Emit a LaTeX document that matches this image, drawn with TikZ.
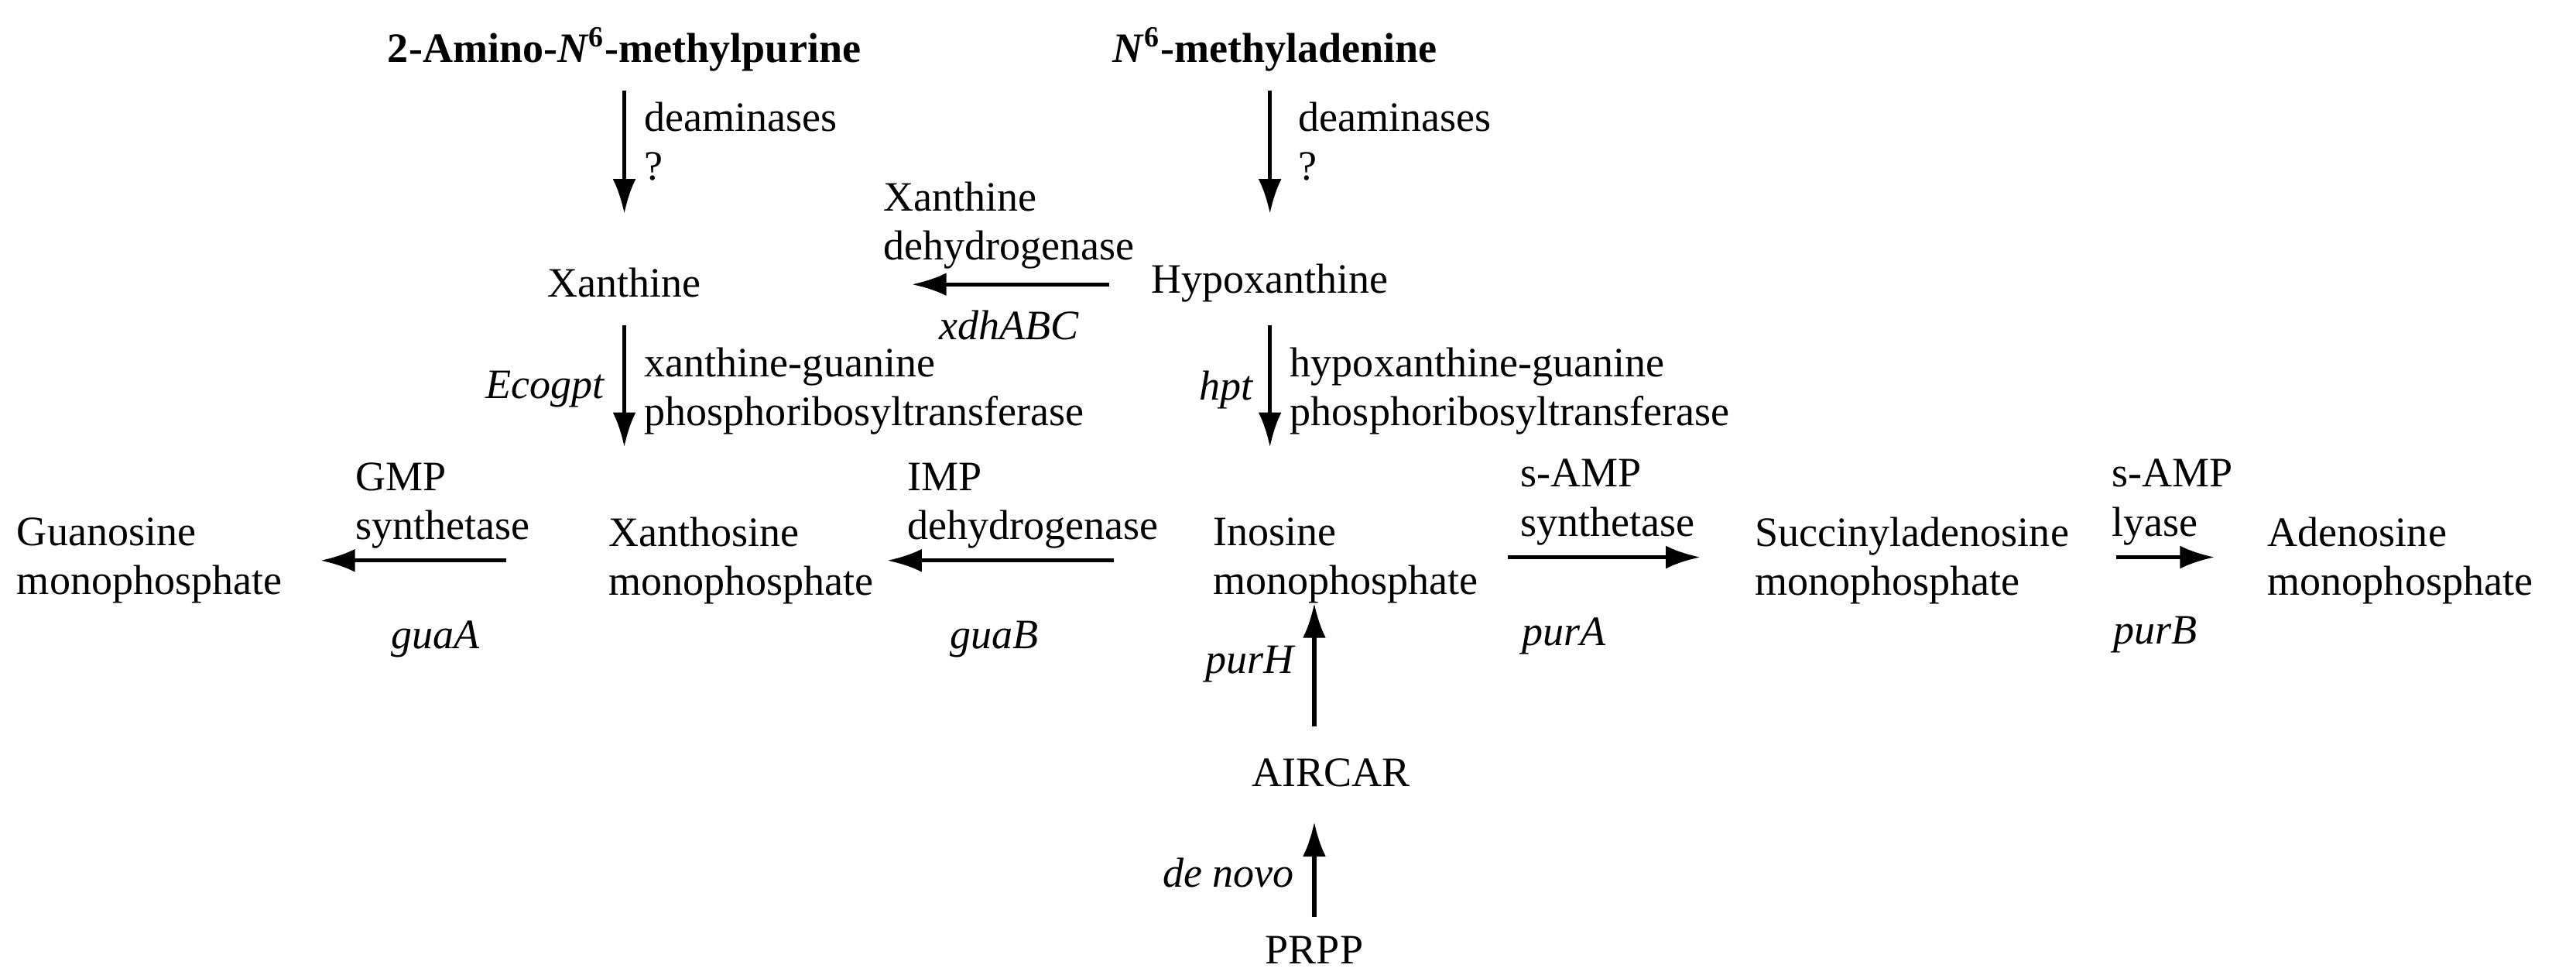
\documentclass[tikz,border=0pt]{standalone}
\usepackage{fontspec}
\setmainfont{Liberation Serif}
\usetikzlibrary{arrows.meta,positioning}
\tikzset{
    metab/.style={inner sep=0pt,align=left},
    enz/.style={inner sep=0pt,align=left},
    gene/.style={inner sep=0pt,font=\fontsize{14.5}{17}\selectfont\itshape},
    rxn/.style={line width=1.4pt,-{Latex[length=12pt,width=8pt]}}
}
\begin{document}
\begin{tikzpicture}[x=0.02cm,y=-0.02cm,font=\fontsize{14.5}{17}\selectfont]
\useasboundingbox (0,0) rectangle (1568,593);

% ========= Metabolites =========
\node[metab,font=\fontsize{14.5}{17}\selectfont\bfseries] (amp6) at (380,30) {2-Amino-\textit{N}\textsuperscript{6}-methylpurine};
\node[metab,font=\fontsize{14.5}{17}\selectfont\bfseries] (madn) at (776,30) {\textit{N}\textsuperscript{6}-methyladenine};
\node[metab] (xan) at (380,172) {Xanthine};
\node[metab] (hyp) at (773,172) {Hypoxanthine};
\node[metab,anchor=west] (gmp) at (10,341) {Guanosine\\monophosphate};
\node[metab,anchor=west] (xmp) at (370,341) {Xanthosine\\monophosphate};
\node[metab,anchor=west] (imp) at (738,341) {Inosine\\monophosphate};
\node[metab,anchor=west] (samp) at (1068,341) {Succinyladenosine\\monophosphate};
\node[metab,anchor=west] (amp) at (1380,341) {Adenosine\\monophosphate};
\node[metab] (aircar) at (810,470) {AIRCAR};
\node[metab] (prpp) at (800,578) {PRPP};

% ========= Arrow ends =========
\coordinate (a1s) at (380,55);  \coordinate (a1e) at (380,130);
\coordinate (a2s) at (773,55);  \coordinate (a2e) at (773,130);
\coordinate (a3s) at (675,173); \coordinate (a3e) at (555,173);
\coordinate (a4s) at (380,198); \coordinate (a4e) at (380,272);
\coordinate (a5s) at (773,198); \coordinate (a5e) at (773,272);
\coordinate (a6s) at (308,341); \coordinate (a6e) at (195,341);
\coordinate (a7s) at (678,341); \coordinate (a7e) at (540,341);
\coordinate (a8s) at (918,339); \coordinate (a8e) at (1035,339);
\coordinate (a9s) at (1288,339); \coordinate (a9e) at (1348,339);
\coordinate (a10s) at (800,442); \coordinate (a10e) at (800,367);
\coordinate (a11s) at (800,558); \coordinate (a11e) at (800,500);

% ========= Reactions =========
\draw[rxn] (a1s) -- (a1e);
\draw[rxn] (a2s) -- (a2e);
\draw[rxn] (a3s) -- (a3e);
\draw[rxn] (a4s) -- (a4e);
\draw[rxn] (a5s) -- (a5e);
\draw[rxn] (a6s) -- (a6e);
\draw[rxn] (a7s) -- (a7e);
\draw[rxn] (a8s) -- (a8e);
\draw[rxn] (a9s) -- (a9e);
\draw[rxn] (a10s) -- (a10e);
\draw[rxn] (a11s) -- (a11e);

% ========= Enzymes and genes =========
\node[enz,anchor=west] (dea1) at (392,86) {deaminases\\?};
\node[enz,anchor=west] (dea2) at (790,86) {deaminases\\?};
\node[enz] (xdh) at (614,137) {Xanthine\\dehydrogenase};
\node[gene] (xdhg) at (614,198) {xdhABC};
\node[enz,anchor=west] (xgp) at (392,238) {xanthine-guanine\\phosphoribosyltransferase};
\node[gene,anchor=east] (ecog) at (368,237) {Ecogpt};
\node[enz,anchor=west] (hgp) at (785,238) {hypoxanthine-guanine\\phosphoribosyltransferase};
\node[gene,anchor=east] (hptg) at (763,237) {hpt};
\node[enz,anchor=south west] (gmps) at (216,334) {GMP\\synthetase};
\node[gene] (guaa) at (265,389) {guaA};
\node[enz,anchor=south west] (impd) at (552,334) {IMP\\dehydrogenase};
\node[gene] (guab) at (605,389) {guaB};
\node[enz,anchor=south west] (sams) at (925,332) {s-AMP\\synthetase};
\node[gene] (pura) at (952,387) {purA};
\node[enz,anchor=south west] (saml) at (1285,332) {s-AMP\\lyase};
\node[gene] (purb) at (1312,386) {purB};
\node[gene,anchor=east] (purh) at (788,404) {purH};
\node[gene,anchor=east] (denovo) at (788,531) {de novo};

\end{tikzpicture}
\end{document}
